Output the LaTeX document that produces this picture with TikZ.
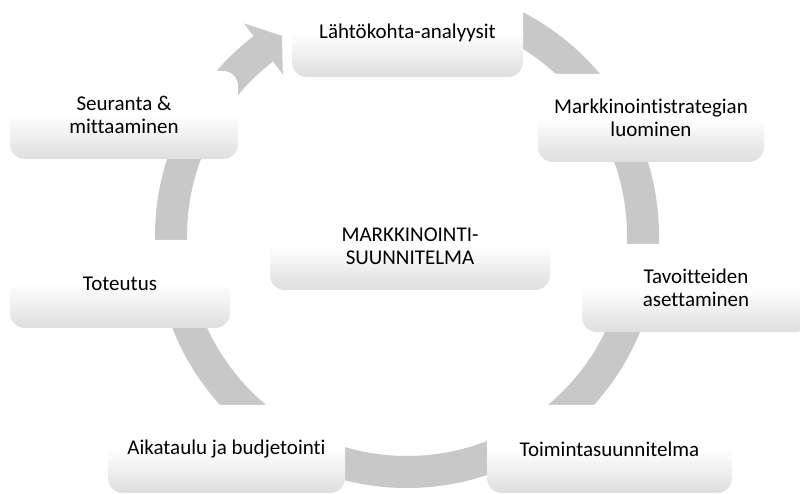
\documentclass[tikz,border=0pt]{standalone}
\usepackage{fontspec}
\setmainfont{Carlito}[Ligatures=NoCommon]
\definecolor{ringgray}{RGB}{200,200,200}
\begin{document}
\begin{tikzpicture}[x=1pt,y=1pt,
  block/.style={rounded corners=15pt, top color=white, bottom color=black!13,
    middle color=white, minimum height=88pt, align=center, inner sep=0pt,
    font=\fontsize{21}{23}\selectfont, text=black},
  ring/.style={fill=ringgray, draw=none}]
\clip (0,0) rectangle (800,494);
\useasboundingbox (0,0) rectangle (800,494);

% circular arrow behind the blocks, running clockwise
\begin{scope}[shift={(407,258)}]
  \fill[ring] (95:252) arc[start angle=95, end angle=-232.5, radius=252pt]
    -- (-232.5:268) -- (-238:236) -- (-232.5:204) -- (-232.5:220)
    arc[start angle=-232.5, end angle=95, radius=220pt] -- cycle;
\end{scope}

% blocks of the cycle
\node[block, minimum width=231pt] (n1) at (407.5,461) {Lähtökohta-analyysit};
\node[block, minimum width=226pt] (n2) at (651,376) {Markkinointistrategian\\luominen};
\node[block, minimum width=228pt] (n3) at (696,206) {Tavoitteiden\\asettaminen};
\node[block, minimum width=245pt] (n4) at (609.5,45) {Toimintasuunnitelma};
\node[block, minimum width=237pt] (n5) at (226.5,45) {Aikataulu ja budjetointi};
\node[block, minimum width=220pt] (n6) at (120,210) {Toteutus};
\node[block, minimum width=228pt] (n7) at (124,379) {Seuranta \&\\mittaaminen};

% central block
\node[block, minimum width=280pt] (n0) at (410,248) {MARKKINOINTI-\\SUUNNITELMA};
\end{tikzpicture}
\end{document}
